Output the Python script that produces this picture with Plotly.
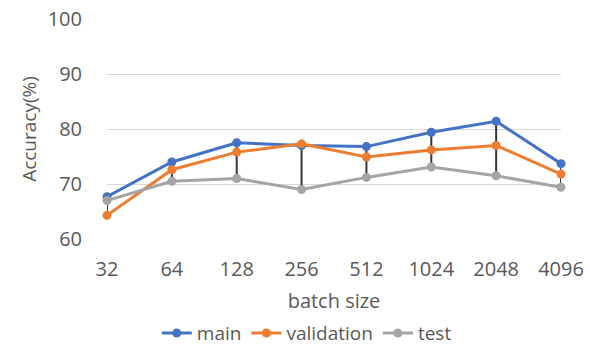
import plotly.graph_objects as go

batch_sizes = ["32", "64", "128", "256", "512", "1024", "2048", "4096"]
main_acc = [67.7, 74.0, 77.5, 77.0, 76.8, 79.4, 81.4, 73.7]
validation_acc = [64.3, 72.6, 75.8, 77.3, 74.9, 76.2, 77.0, 71.8]
test_acc = [67.0, 70.5, 71.0, 69.0, 71.2, 73.1, 71.5, 69.4]
y_ticks = [60, 70, 80, 90, 100]

FONT = "Open Sans"
TXT = "#595959"

# high-low lines built from the series
hl_x, hl_y = [], []
for i, c in enumerate(batch_sizes):
    vals = [main_acc[i], validation_acc[i], test_acc[i]]
    hl_x += [c, c, None]
    hl_y += [max(vals), min(vals), None]

fig = go.Figure()
fig.add_trace(go.Scatter(x=hl_x, y=hl_y, mode="lines", line=dict(color="#383838", width=2),
                         showlegend=False, hoverinfo="skip", cliponaxis=False))

series = [("main", main_acc, "#4472C4"), ("validation", validation_acc, "#ED7D31"), ("test", test_acc, "#A5A5A5")]
for name, vals, col in series:
    fig.add_trace(go.Scatter(x=batch_sizes, y=vals, name=name, mode="lines+markers",
                             line=dict(color=col, width=3), marker=dict(color=col, size=9),
                             cliponaxis=False))

fig.update_layout(
    width=590, height=347,
    margin=dict(l=107, r=29, t=19, b=108, autoexpand=False),
    paper_bgcolor="white", plot_bgcolor="white",
    font=dict(family=FONT, color=TXT, size=17),
    xaxis=dict(type="category", range=[0, 7], showgrid=False, zeroline=False, showline=False,
               ticks="", tickfont=dict(size=20, color=TXT), ticklabelstandoff=16, automargin=False,
               title=dict(text="batch size", font=dict(size=20, color=TXT), standoff=17)),
    yaxis=dict(range=[60, 100], tickvals=y_ticks, showgrid=True, gridcolor="#D9D9D9", gridwidth=1,
               zeroline=False, showline=False, ticks="", ticklabelstandoff=24, automargin=False,
               tickfont=dict(size=20, color=TXT),
               title=dict(text="Accuracy(%)", font=dict(size=19, color=TXT), standoff=6)),
    legend=dict(orientation="h", x=0.52, xref="container", xanchor="center",
                y=0.04, yref="container", yanchor="middle",
                font=dict(size=19, color=TXT), itemwidth=30, tracegroupgap=0),
)

fig.write_html("out.html", config={"displayModeBar": False},
               post_script="document.body.style.margin='0';document.body.style.overflow='hidden';")
